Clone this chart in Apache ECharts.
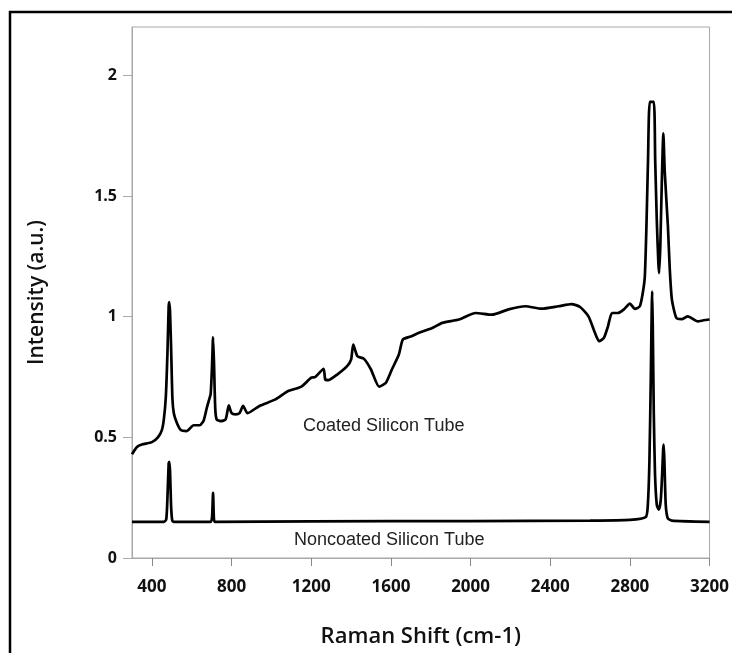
<!DOCTYPE html>
<html>
<head>
<meta charset="utf-8">
<script src="https://cdn.jsdelivr.net/npm/echarts@6/dist/echarts.min.js"></script>
<style>html,body{margin:0;padding:0;background:#fff;overflow:hidden;}#c{width:732px;height:653px;}</style>
</head>
<body>
<div id="c"></div>
<script>
// Raman shift (cm-1) and intensity values
const coatedX = [300,325,350,400,430,450,460,470,478,484,487,491,497,503,510,525,545,575,610,640,660,675,685,695,702,707,712,718,725,745,770,786,800,820,840,858,880,940,1020,1080,1150,1200,1220,1262,1270,1285,1330,1380,1400,1411,1432,1465,1500,1541,1575,1605,1640,1660,1700,1741,1808,1858,1942,2025,2107,2191,2275,2357,2441,2507,2550,2592,2625,2646,2670,2690,2710,2740,2770,2800,2825,2850,2865,2875,2883,2891,2900,2920,2927,2935,2943,2947,2953,2960,2968,2975,2991,3000,3011,3033,3060,3091,3141,3170,3200];
const coatedY = [0.43,0.46,0.47,0.48,0.50,0.53,0.575,0.67,0.85,1.04,1.06,1.02,0.85,0.66,0.60,0.56,0.53,0.526,0.55,0.55,0.57,0.62,0.65,0.68,0.80,0.915,0.80,0.62,0.574,0.567,0.574,0.632,0.60,0.595,0.60,0.63,0.60,0.63,0.657,0.69,0.71,0.747,0.75,0.784,0.74,0.737,0.76,0.795,0.822,0.884,0.836,0.825,0.781,0.71,0.726,0.781,0.843,0.905,0.918,0.933,0.953,0.974,0.988,1.015,1.008,1.03,1.043,1.033,1.043,1.052,1.04,1.001,0.932,0.898,0.913,0.96,1.015,1.015,1.03,1.054,1.032,1.043,1.10,1.167,1.373,1.649,1.89,1.89,1.65,1.40,1.22,1.18,1.30,1.55,1.759,1.60,1.373,1.20,1.07,0.995,0.99,1.001,0.98,0.985,0.988];
const noncoatedX = [300,460,472,478,484,487,491,496,502,510,695,702,707,711,716,1200,2000,2600,2800,2880,2890,2898,2905,2910,2912,2915,2920,2926,2935,2945,2955,2962,2967,2970,2974,2980,2990,3010,3200];
const noncoatedY = [0.15,0.15,0.16,0.25,0.39,0.398,0.36,0.22,0.155,0.15,0.15,0.17,0.27,0.17,0.15,0.152,0.153,0.155,0.158,0.17,0.22,0.40,0.75,1.05,1.105,0.95,0.60,0.35,0.22,0.20,0.24,0.35,0.45,0.47,0.38,0.22,0.165,0.155,0.15];
const xTicks = [400,800,1200,1600,2000,2400,2800,3200];
const yTicks = [0,0.5,1,1.5,2];

const zip = (xs, ys) => xs.map((x, i) => [x, ys[i]]);
const chart = echarts.init(document.getElementById('c'));
const labelFont = {fontFamily: 'Open Sans', fontWeight: 'bold', color: '#111'};
chart.setOption({
  animation: false,
  backgroundColor: '#fff',
  grid: {left: 132, right: 19, top: 27, bottom: 94, show: true, borderColor: '#a8a8a8', borderWidth: 1},
  xAxis: {
    type: 'value', min: 300, max: 3200,
    name: 'Raman Shift (cm-1)', nameLocation: 'middle', nameGap: 68,
    nameTextStyle: {fontFamily: 'Open Sans', fontWeight: 600, fontSize: 22, color: '#111'},
    axisLine: {lineStyle: {color: '#a8a8a8'}},
    axisTick: {show: true, length: 8, customValues: xTicks, lineStyle: {color: '#888'}},
    axisLabel: Object.assign({fontSize: 17, margin: 21, customValues: xTicks,
      formatter: v => String(v)}, labelFont),
    splitLine: {show: false}
  },
  yAxis: {
    type: 'value', min: 0, max: 2.2, interval: 0.5,
    name: 'Intensity (a.u.)', nameLocation: 'middle', nameGap: 84, nameRotate: 90,
    nameTextStyle: {fontFamily: 'Open Sans', fontWeight: 600, fontSize: 21, color: '#111'},
    axisLine: {show: true, lineStyle: {color: '#a8a8a8'}},
    axisTick: {show: true, length: 9, lineStyle: {color: '#aaa'}},
    axisLabel: Object.assign({fontSize: 16, margin: 15, showMaxLabel: false,
      formatter: v => yTicks.includes(v) ? String(v) : ''}, labelFont),
    splitLine: {show: false}
  },
  series: [
    {type: 'line', data: zip(coatedX, coatedY), showSymbol: false, smooth: 0.2,
     lineStyle: {color: '#000', width: 2.7}},
    {type: 'line', data: zip(noncoatedX, noncoatedY), showSymbol: false, smooth: 0.2,
     lineStyle: {color: '#000', width: 2.7}}
  ],
  graphic: [
    {type: 'polyline', shape: {points: [[10, 700], [10, 12], [800, 12]]}, style: {fill: null, stroke: '#000', lineWidth: 2.5}, silent: true},
    {type: 'text', left: 303, top: 417, style: {text: 'Coated Silicon Tube', fontFamily: 'Liberation Sans', fontSize: 18, fill: '#222'}},
    {type: 'text', left: 294, top: 531, style: {text: 'Noncoated Silicon Tube', fontFamily: 'Liberation Sans', fontSize: 18, fill: '#222'}}
  ]
});
</script>
</body>
</html>
